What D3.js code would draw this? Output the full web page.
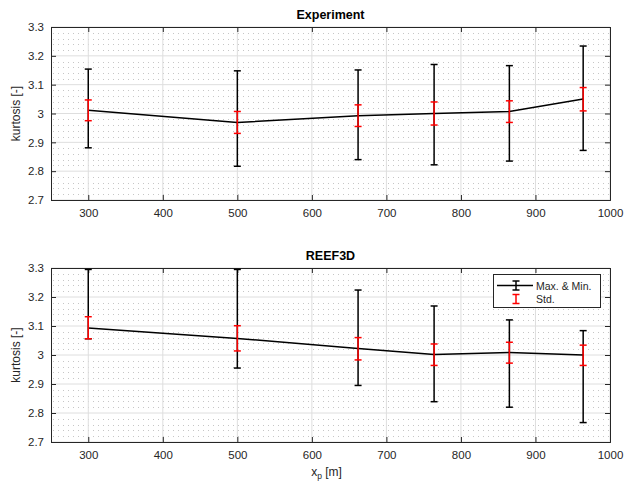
<!DOCTYPE html>
<html><head><meta charset="utf-8">
<script src="https://cdn.jsdelivr.net/npm/d3@7"></script>
<style>
html,body{margin:0;padding:0;background:#fff;}
svg{display:block;font-family:"Liberation Sans",Arial,Helvetica,sans-serif;}
</style></head>
<body>
<script>
const xPos = [300, 500, 662, 764, 865, 964];
const expMean  = [3.011, 2.969, 2.992, 3.000, 3.007, 3.050];
const expMax   = [3.154, 3.148, 3.151, 3.170, 3.166, 3.234];
const expMin   = [2.881, 2.817, 2.840, 2.822, 2.835, 2.872];
const expStdHi = [3.047, 3.007, 3.030, 3.040, 3.044, 3.090];
const expStdLo = [2.975, 2.931, 2.955, 2.960, 2.969, 3.009];
const reefMean  = [3.093, 3.057, 3.022, 3.002, 3.009, 3.000];
const reefMax   = [3.295, 3.295, 3.224, 3.169, 3.121, 3.084];
const reefMin   = [3.056, 2.955, 2.895, 2.839, 2.820, 2.767];
const reefStdHi = [3.132, 3.101, 3.060, 3.038, 3.044, 3.034];
const reefStdLo = [3.056, 3.014, 2.983, 2.964, 2.972, 2.964];
const xTicks = [300, 400, 500, 600, 700, 800, 900, 1000];
const yTicks = [2.7, 2.8, 2.9, 3.0, 3.1, 3.2, 3.3];
const titles = ["Experiment", "REEF3D"];
const yLabel = "kurtosis [-]";
const legendLabels = ["Max. & Min.", "Std."];

const W = 626, H = 482;
const svg = d3.select("body").append("svg").attr("width", W).attr("height", H);

const L = 51, R = 610;
const x = d3.scaleLinear().domain([250, 1000]).range([L, R]);

const panels = [
  {top: 27, bottom: 200, title: titles[0], mean: expMean, mx: expMax, mn: expMin, sh: expStdHi, sl: expStdLo, legend: false, xlabel: false},
  {top: 268, bottom: 442, title: titles[1], mean: reefMean, mx: reefMax, mn: reefMin, sh: reefStdHi, sl: reefStdLo, legend: true, xlabel: true}
];

const axisCol = "#262626";
const cap = 3.5;

panels.forEach(p => {
  const y = d3.scaleLinear().domain([2.7, 3.3]).range([p.bottom, p.top]);
  const g = svg.append("g");
  g.append("rect").attr("x", L).attr("y", p.top).attr("width", R - L).attr("height", p.bottom - p.top).attr("fill", "#fff");

  // minor grid (dotted)
  const minorY = d3.range(2.72, 3.3, 0.02).filter(v => Math.abs(Math.round(v * 10) - v * 10) > 1e-6);
  g.selectAll(".my").data(minorY).enter().append("line")
    .attr("x1", L + 2).attr("x2", R).attr("y1", d => Math.round(y(d)) + 0.5).attr("y2", d => Math.round(y(d)) + 0.5)
    .attr("stroke", "#c6c6c6").attr("stroke-width", 1).attr("stroke-dasharray", "1,4");

  // major grid
  g.selectAll(".gy").data(yTicks).enter().append("line")
    .attr("x1", L).attr("x2", R).attr("y1", d => y(d)).attr("y2", d => y(d))
    .attr("stroke", "#dedede").attr("stroke-width", 1);
  g.selectAll(".gx").data(xTicks).enter().append("line")
    .attr("x1", d => x(d)).attr("x2", d => x(d)).attr("y1", p.top).attr("y2", p.bottom)
    .attr("stroke", "#dedede").attr("stroke-width", 1);

  // axes
  const ax = d3.axisBottom(x).tickValues(xTicks).tickSize(-5).tickPadding(9).tickFormat(d3.format("d"));
  const gxA = g.append("g").attr("transform", `translate(0,${p.bottom})`).call(ax);
  const axT = d3.axisTop(x).tickValues(xTicks).tickSize(-5).tickFormat("");
  const gxT = g.append("g").attr("transform", `translate(0,${p.top})`).call(axT);
  const ay = d3.axisLeft(y).tickValues(yTicks).tickSize(-5).tickPadding(7).tickFormat(d => d === 3 ? "3" : d3.format(".1f")(d));
  const gyA = g.append("g").attr("transform", `translate(${L},0)`).call(ay);
  const ayR = d3.axisRight(y).tickValues(yTicks).tickSize(-5).tickFormat("");
  const gyR = g.append("g").attr("transform", `translate(${R},0)`).call(ayR);
  [gxA, gxT, gyA, gyR].forEach(a => {
    a.selectAll("path").attr("stroke", axisCol).attr("stroke-width", 1);
    a.selectAll("line").attr("stroke", axisCol);
    a.selectAll("text").attr("fill", axisCol).attr("font-size", 11.5).attr("font-family", "Liberation Sans, Arial, sans-serif");
  });

  // title
  g.append("text").attr("x", (L + R) / 2).attr("y", p.top - 8).attr("text-anchor", "middle")
    .attr("font-weight", "bold").attr("font-size", 12.5).attr("fill", "#000").text(p.title);
  // y label
  g.append("text").attr("transform", `translate(20,${(p.top + p.bottom) / 2}) rotate(-90)`)
    .attr("text-anchor", "middle").attr("font-size", 12).attr("fill", axisCol).text(yLabel);

  const data = xPos.map((v, i) => ({x: v, m: p.mean[i], hi: p.mx[i], lo: p.mn[i], sh: p.sh[i], sl: p.sl[i]}));

  // black error bars
  const eb = g.append("g").attr("stroke", "#000").attr("stroke-width", 1.5).attr("fill", "none");
  data.forEach(d => {
    eb.append("line").attr("x1", x(d.x)).attr("x2", x(d.x)).attr("y1", y(d.hi)).attr("y2", y(d.lo));
    eb.append("line").attr("x1", x(d.x) - cap).attr("x2", x(d.x) + cap).attr("y1", y(d.hi)).attr("y2", y(d.hi));
    eb.append("line").attr("x1", x(d.x) - cap).attr("x2", x(d.x) + cap).attr("y1", y(d.lo)).attr("y2", y(d.lo));
  });
  g.append("path").datum(data).attr("fill", "none").attr("stroke", "#000").attr("stroke-width", 1.5)
    .attr("d", d3.line().x(d => x(d.x)).y(d => y(d.m)));
  // red std bars
  const rb = g.append("g").attr("stroke", "#ff0000").attr("stroke-width", 1.5).attr("fill", "none");
  data.forEach(d => {
    rb.append("line").attr("x1", x(d.x)).attr("x2", x(d.x)).attr("y1", y(d.sh)).attr("y2", y(d.sl));
    rb.append("line").attr("x1", x(d.x) - cap).attr("x2", x(d.x) + cap).attr("y1", y(d.sh)).attr("y2", y(d.sh));
    rb.append("line").attr("x1", x(d.x) - cap).attr("x2", x(d.x) + cap).attr("y1", y(d.sl)).attr("y2", y(d.sl));
  });

  if (p.xlabel) {
    const t = g.append("text").attr("x", (L + R) / 2 - 4).attr("y", p.bottom + 34).attr("text-anchor", "middle")
      .attr("font-size", 12).attr("fill", axisCol);
    t.append("tspan").text("x");
    t.append("tspan").attr("font-size", 8.5).attr("dy", 3).text("p");
    t.append("tspan").attr("dy", -3).text(" [m]");
  }

  if (p.legend) {
    const lg = g.append("g");
    lg.append("rect").attr("x", 493.5).attr("y", 274.5).attr("width", 107).attr("height", 33)
      .attr("fill", "#fff").attr("stroke", axisCol).attr("stroke-width", 1);
    const cx = 516, y1 = 285.5, y2 = 299;
    lg.append("line").attr("x1", 497).attr("x2", 533).attr("y1", y1).attr("y2", y1).attr("stroke", "#000").attr("stroke-width", 1.5);
    lg.append("line").attr("x1", cx).attr("x2", cx).attr("y1", y1 - 4.5).attr("y2", y1 + 4.5).attr("stroke", "#000").attr("stroke-width", 1.5);
    lg.append("line").attr("x1", cx - 3.5).attr("x2", cx + 3.5).attr("y1", y1 - 4.5).attr("y2", y1 - 4.5).attr("stroke", "#000").attr("stroke-width", 1.5);
    lg.append("line").attr("x1", cx - 3.5).attr("x2", cx + 3.5).attr("y1", y1 + 4.5).attr("y2", y1 + 4.5).attr("stroke", "#000").attr("stroke-width", 1.5);
    lg.append("line").attr("x1", cx).attr("x2", cx).attr("y1", y2 - 4.5).attr("y2", y2 + 4.5).attr("stroke", "#f00").attr("stroke-width", 1.5);
    lg.append("line").attr("x1", cx - 3.5).attr("x2", cx + 3.5).attr("y1", y2 - 4.5).attr("y2", y2 - 4.5).attr("stroke", "#f00").attr("stroke-width", 1.5);
    lg.append("line").attr("x1", cx - 3.5).attr("x2", cx + 3.5).attr("y1", y2 + 4.5).attr("y2", y2 + 4.5).attr("stroke", "#f00").attr("stroke-width", 1.5);
    lg.append("text").attr("x", 536).attr("y", y1 + 4).attr("font-size", 10.5).attr("fill", axisCol).text(legendLabels[0]);
    lg.append("text").attr("x", 536).attr("y", y2 + 4).attr("font-size", 10.5).attr("fill", axisCol).text(legendLabels[1]);
  }
});
</script>
</body></html>
